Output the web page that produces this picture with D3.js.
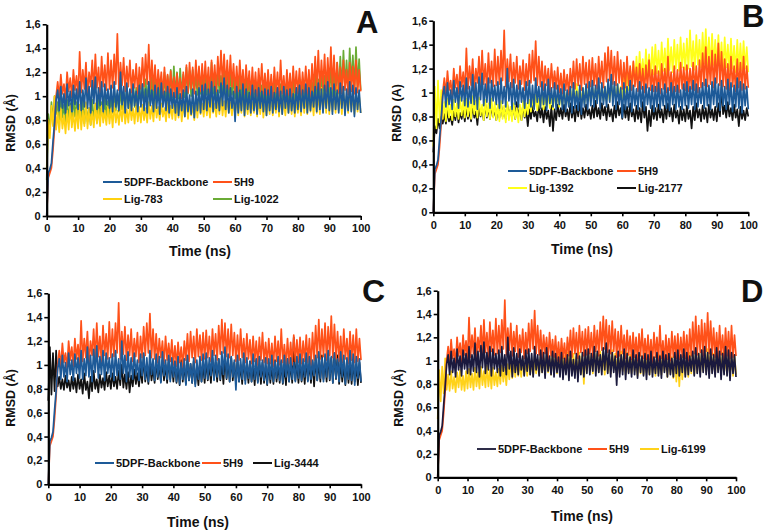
<!DOCTYPE html>
<html><head><meta charset="utf-8">
<script src="https://cdn.jsdelivr.net/npm/d3@7"></script>
<style>
body{margin:0;background:#fff}
svg{display:block}
text{font-family:"Liberation Sans",Arial,sans-serif;font-weight:bold;fill:#111}
</style>
</head><body>
<svg id="chart" width="765" height="531"></svg>
<script>
// ---------------- DATA ----------------
const timeStep = 0.5; // ns between samples (t = 0 .. 100)
const xTicks = [0,10,20,30,40,50,60,70,80,90,100];
const yTicks = [0,0.2,0.4,0.6,0.8,1.0,1.2,1.4,1.6];
const yTickLabels = ["0","0,2","0,4","0,6","0,8","1","1,2","1,4","1,6"];
const panelLetters = ["A","B","C","D"];
const yTitles = ["RMSD (Å)","RMSD (A)","RMSD (Å)","RMSD (Å)"];
const xTitle = "Time (ns)";

const backbone = [0.00,0.36,0.39,0.44,0.62,0.78,0.97,
1.05,0.88,1.08,0.90,1.02,0.86,1.10,0.92,1.04,0.87,1.09,0.93,1.06,0.89,
1.12,0.88,1.05,0.91,1.15,0.90,1.08,0.86,1.13,0.94,1.16,0.89,1.07,0.92,1.12,0.87,1.10,0.93,1.06,0.90,
1.09,0.87,1.12,0.91,1.05,0.88,1.20,0.93,1.08,0.86,1.11,0.90,1.06,0.88,1.10,0.92,1.04,0.87,1.09,0.91,
1.10,0.88,1.06,0.86,1.12,0.92,1.05,0.87,1.09,0.90,1.07,0.85,1.11,0.91,1.04,0.88,1.08,0.86,1.06,0.90,
1.03,0.86,1.07,0.84,1.02,0.88,1.05,0.83,1.08,0.87,1.01,0.85,1.06,0.82,1.04,0.88,1.07,0.86,1.09,0.89,
1.10,0.88,1.06,0.91,1.12,0.87,1.08,0.90,1.05,0.88,1.11,0.92,1.15,0.89,1.09,0.86,1.07,0.90,1.04,0.79,
1.08,0.86,1.05,0.88,1.10,0.84,1.06,0.89,1.03,0.86,1.09,0.88,1.05,0.85,1.07,0.90,1.04,0.87,1.06,0.84,
1.05,0.88,1.08,0.86,1.03,0.89,1.07,0.87,1.04,0.85,1.08,0.90,1.05,0.86,1.06,0.88,1.02,0.86,1.07,0.89,
1.09,0.87,1.05,0.90,1.10,0.86,1.07,0.88,1.04,0.91,1.08,0.87,1.11,0.89,1.06,0.86,1.09,0.90,1.12,0.88,
1.07,0.85,1.10,0.89,1.05,0.86,1.11,0.90,1.08,0.84,1.06,0.88,1.12,0.87,1.09,0.83,1.07,0.89,1.05,0.86];

const h5H9 = [0.00,0.32,0.36,0.40,0.55,0.74,1.00,
1.12,0.98,1.18,1.02,1.10,0.97,1.20,1.04,1.15,0.99,1.22,1.05,1.17,1.00,
1.37,1.03,1.22,1.06,1.28,1.01,1.20,1.08,1.30,1.04,1.35,1.07,1.24,1.02,1.33,1.08,1.26,1.05,1.36,1.06,
1.30,1.07,1.35,1.10,1.52,1.05,1.28,1.09,1.32,1.04,1.25,1.08,1.30,1.03,1.22,1.07,1.27,1.02,1.24,1.06,
1.32,1.08,1.35,1.10,1.43,1.06,1.30,1.05,1.26,1.02,1.22,1.06,1.20,1.01,1.24,1.04,1.18,1.03,1.21,1.00,
1.16,0.99,1.19,1.02,1.15,0.98,1.20,1.04,1.26,1.03,1.28,1.06,1.24,1.02,1.30,1.07,1.25,1.04,1.27,1.05,
1.29,1.06,1.24,1.03,1.30,1.08,1.26,1.04,1.33,1.09,1.38,1.10,1.35,1.07,1.30,1.06,1.34,1.08,1.27,1.03,
1.25,1.04,1.30,1.06,1.22,1.02,1.26,1.05,1.21,1.01,1.24,1.03,1.20,1.00,1.23,1.04,1.27,1.02,1.19,1.01,
1.22,1.01,1.18,0.99,1.24,1.03,1.20,1.00,1.30,1.02,1.17,0.99,1.22,1.01,1.19,1.00,1.25,1.03,1.21,1.02,
1.23,1.01,1.20,1.03,1.25,1.02,1.22,1.00,1.27,1.04,1.33,1.06,1.38,1.05,1.30,1.07,1.35,1.04,1.32,1.08,
1.41,1.06,1.34,1.05,1.28,1.03,1.24,1.02,1.30,1.05,1.22,1.01,1.28,1.04,1.25,1.02,1.30,1.03,1.22,1.04];

const lig783 = [0.40,0.80,0.65,0.92,0.75,1.00,0.72,
0.86,0.70,0.90,0.73,0.84,0.69,0.88,0.72,0.92,0.74,0.86,0.71,0.89,0.73,
0.93,0.72,0.88,0.75,0.95,0.73,0.90,0.76,0.87,0.74,0.94,0.77,0.89,0.75,0.92,0.78,0.88,0.76,0.91,0.77,
0.90,0.74,0.94,0.78,0.88,0.76,0.92,0.79,0.95,0.77,0.89,0.78,0.93,0.80,0.90,0.77,0.94,0.79,0.91,0.78,
0.93,0.80,0.90,0.78,0.95,0.81,0.92,0.79,0.96,0.82,0.91,0.80,0.94,0.83,0.90,0.79,0.95,0.82,0.92,0.81,
0.96,0.80,0.93,0.82,0.97,0.79,0.94,0.83,0.98,0.81,0.95,0.84,0.92,0.80,0.96,0.82,0.99,0.85,0.94,0.83,
0.97,0.84,0.95,0.82,0.99,0.86,0.94,0.83,0.98,0.85,1.00,0.84,0.96,0.83,0.99,0.86,0.95,0.84,0.97,0.85,
0.98,0.84,0.96,0.86,1.00,0.83,0.97,0.85,0.99,0.84,0.95,0.86,1.01,0.83,0.97,0.85,0.99,0.82,0.96,0.84,
0.98,0.85,1.00,0.84,0.96,0.86,0.99,0.83,1.02,0.85,0.97,0.84,1.00,0.86,0.98,0.85,1.01,0.83,0.97,0.86,
0.99,0.84,1.02,0.86,0.98,0.85,1.03,0.87,1.00,0.84,1.05,0.86,1.02,0.85,1.07,0.87,1.04,0.86,1.08,0.85,
1.06,0.87,1.03,0.86,1.08,0.88,1.02,0.85,1.05,0.87,1.00,0.86,1.04,0.88,1.01,0.85,1.03,0.87,1.00,0.86];

const lig1022 = [0.30,0.85,0.70,0.95,0.80,1.00,0.85,
0.95,0.80,0.98,0.82,0.93,0.79,0.97,0.81,0.94,0.80,0.99,0.83,0.95,0.80,
0.92,0.78,0.96,0.77,0.94,0.79,0.90,0.76,0.97,0.80,0.93,0.78,0.98,0.82,0.95,0.81,0.99,0.83,0.96,0.84,
1.00,0.86,1.04,0.88,1.02,0.87,1.06,0.89,1.03,0.88,1.08,0.90,1.05,0.89,1.10,0.91,1.07,0.90,1.12,0.92,
1.10,0.93,1.14,0.95,1.12,0.94,1.16,0.96,1.13,0.95,1.18,0.97,1.15,0.96,1.20,0.98,1.17,0.97,1.22,0.99,
1.25,1.00,1.20,0.98,1.23,1.01,1.18,0.99,1.24,1.02,1.21,1.00,1.22,1.03,1.18,1.01,1.20,1.02,1.17,1.00,
1.19,1.01,1.16,0.99,1.28,1.02,1.18,1.00,1.20,1.03,1.17,1.01,1.21,1.02,1.18,1.00,1.19,1.01,1.15,0.98,
1.14,0.96,1.18,0.98,1.12,0.95,1.16,0.97,1.11,0.94,1.15,0.96,1.10,0.93,1.14,0.95,1.09,0.92,1.13,0.94,
1.11,0.93,1.08,0.91,1.12,0.94,1.07,0.90,1.10,0.92,1.06,0.89,1.11,0.93,1.08,0.90,1.12,0.92,1.07,0.88,
1.10,0.91,1.14,0.93,1.09,0.90,1.16,0.94,1.12,0.92,1.18,0.95,1.14,0.93,1.20,0.97,1.17,0.95,1.22,0.98,
1.26,1.00,1.22,0.99,1.28,1.02,1.33,1.05,1.38,1.08,1.30,1.04,1.40,1.10,1.34,1.06,1.41,1.08,1.31,1.05];

const lig1392 = [0.55,1.05,0.70,1.10,0.75,1.02,0.78,
0.92,0.76,0.95,0.79,0.90,0.77,0.94,0.80,0.91,0.78,0.96,0.81,0.93,0.79,
0.95,0.80,0.92,0.78,0.97,0.82,0.93,0.79,0.96,0.81,0.90,0.77,0.94,0.80,0.91,0.78,0.95,0.79,0.92,0.77,
0.90,0.76,0.93,0.78,0.89,0.75,0.92,0.77,0.88,0.76,0.91,0.78,0.87,0.75,0.90,0.77,0.93,0.80,0.91,0.82,
0.94,0.84,0.96,0.86,0.98,0.85,0.95,0.87,0.99,0.86,0.97,0.88,1.00,0.87,0.98,0.86,1.01,0.89,0.99,0.88,
1.01,0.90,1.03,0.91,1.00,0.90,1.04,0.92,1.02,0.91,1.07,0.93,1.03,0.92,1.04,0.91,1.06,0.93,1.03,0.92,
1.05,0.93,1.03,0.92,1.06,0.94,1.04,0.93,1.05,0.94,1.03,0.93,1.08,0.95,1.05,0.94,1.07,0.96,1.05,0.95,
1.13,1.00,1.16,1.02,1.20,1.04,1.25,1.08,1.30,1.10,1.34,1.12,1.28,1.11,1.36,1.14,1.32,1.12,1.38,1.15,
1.40,1.16,1.35,1.14,1.42,1.18,1.37,1.15,1.45,1.19,1.38,1.17,1.44,1.20,1.40,1.18,1.46,1.21,1.41,1.19,
1.45,1.20,1.52,1.22,1.43,1.19,1.48,1.23,1.44,1.21,1.50,1.24,1.53,1.22,1.46,1.20,1.49,1.23,1.44,1.21,
1.48,1.22,1.42,1.19,1.46,1.21,1.40,1.18,1.45,1.20,1.39,1.17,1.44,1.19,1.41,1.18,1.43,1.20,1.38,1.17];

const lig2177 = [0.50,0.72,0.66,0.78,0.70,0.80,0.74,
0.82,0.74,0.85,0.76,0.80,0.73,0.84,0.77,0.86,0.75,0.83,0.78,0.87,0.76,
0.88,0.78,0.85,0.76,0.90,0.79,0.84,0.73,0.88,0.80,0.86,0.77,0.91,0.79,0.87,0.78,0.89,0.80,0.86,0.77,
0.88,0.79,0.91,0.80,0.87,0.78,0.90,0.81,0.86,0.79,0.89,0.78,0.92,0.80,0.87,0.77,0.90,0.79,0.85,0.72,
0.86,0.78,0.89,0.80,0.84,0.76,0.90,0.79,0.87,0.75,0.88,0.78,0.85,0.72,0.89,0.68,0.86,0.77,0.90,0.80,
0.87,0.78,0.90,0.80,0.86,0.77,0.91,0.79,0.88,0.76,0.89,0.80,0.92,0.78,0.87,0.79,0.90,0.81,0.86,0.78,
0.89,0.79,0.93,0.80,0.87,0.78,0.91,0.81,0.88,0.77,0.90,0.80,0.86,0.76,0.89,0.79,0.92,0.81,0.87,0.78,
0.90,0.79,0.88,0.77,0.91,0.80,0.86,0.76,0.89,0.78,0.87,0.75,0.92,0.79,0.88,0.68,0.85,0.72,0.89,0.78,
0.87,0.77,0.90,0.79,0.86,0.75,0.89,0.78,0.91,0.80,0.87,0.76,0.90,0.79,0.85,0.74,0.88,0.77,0.86,0.76,
0.89,0.78,0.85,0.70,0.88,0.77,0.91,0.79,0.86,0.76,0.89,0.78,0.87,0.75,0.90,0.79,0.86,0.77,0.88,0.76,
0.91,0.80,1.05,0.82,0.89,0.79,0.92,0.80,0.87,0.77,0.90,0.79,0.86,0.72,0.88,0.78,0.85,0.77,0.87,0.80];

const lig3444 = [0.70,1.15,0.75,1.10,0.78,1.12,0.82,
0.90,0.80,0.88,0.79,0.91,0.81,0.87,0.78,0.90,0.80,0.89,0.77,0.92,0.80,
0.88,0.76,0.93,0.79,0.86,0.72,0.90,0.78,0.95,0.80,0.88,0.77,0.92,0.81,0.89,0.79,0.94,0.82,0.91,0.80,
0.93,0.82,0.90,0.80,0.95,0.83,1.00,0.81,0.92,0.80,0.94,0.77,0.91,0.82,0.96,0.84,0.93,0.82,0.97,0.85,
1.08,0.86,0.98,0.84,1.02,0.87,0.97,0.85,1.03,0.88,0.99,0.86,1.04,0.87,1.00,0.85,1.05,0.88,1.01,0.86,
1.03,0.85,0.99,0.83,1.04,0.86,1.00,0.84,1.05,0.87,1.01,0.85,1.03,0.84,0.98,0.83,1.02,0.86,1.00,0.85,
1.04,0.87,1.00,0.85,1.06,0.88,1.02,0.86,1.05,0.87,1.01,0.84,1.07,0.88,1.03,0.86,1.06,0.87,1.02,0.85,
1.04,0.86,1.00,0.84,1.05,0.87,1.01,0.85,1.03,0.86,0.99,0.83,1.04,0.86,1.00,0.84,1.02,0.85,0.98,0.83,
1.02,0.85,0.99,0.84,1.04,0.86,1.00,0.85,1.03,0.84,0.99,0.83,1.05,0.86,1.01,0.85,1.23,0.87,1.02,0.85,
1.04,0.86,1.00,0.84,1.05,0.87,1.01,0.85,1.03,0.82,1.06,0.87,1.02,0.86,1.08,0.88,1.04,0.86,1.10,0.87,
1.06,0.85,1.10,0.88,1.08,0.84,1.03,0.86,1.00,0.83,1.04,0.85,1.01,0.84,1.03,0.86,0.99,0.83,1.02,0.85];

const lig6199 = [0.50,0.92,0.65,0.95,0.72,1.02,0.75,
0.88,0.74,0.91,0.76,0.86,0.73,0.90,0.77,0.92,0.75,0.87,0.74,0.91,0.76,
0.93,0.77,0.89,0.75,0.94,0.78,0.90,0.76,0.95,0.79,0.91,0.77,0.96,0.78,0.92,0.76,0.94,0.79,0.90,0.78,
0.93,0.80,0.96,0.82,0.94,0.79,0.97,0.84,1.00,0.85,0.98,0.86,1.01,0.87,0.99,0.86,1.02,0.88,1.00,0.87,
1.03,0.88,1.00,0.87,1.04,0.89,1.01,0.88,1.05,0.90,1.02,0.89,1.06,0.90,1.03,0.88,1.07,0.91,1.04,0.89,
1.05,0.90,1.08,0.91,1.04,0.89,1.07,0.92,1.05,0.90,1.06,0.88,1.03,0.87,1.07,0.89,1.04,0.80,1.06,0.90,
1.08,0.91,1.05,0.89,1.09,0.92,1.06,0.90,1.08,0.91,1.04,0.88,1.07,0.90,1.05,0.89,1.09,0.92,1.06,0.90,
1.05,0.89,1.08,0.91,1.04,0.88,1.07,0.90,1.05,0.89,1.08,0.91,1.03,0.87,1.06,0.89,1.04,0.88,1.07,0.90,
1.04,0.88,1.07,0.90,1.03,0.87,1.06,0.89,1.05,0.88,1.08,0.91,1.04,0.86,1.06,0.89,1.03,0.85,1.05,0.82,
1.02,0.78,1.04,0.84,1.06,0.88,1.03,0.86,1.07,0.89,1.05,0.88,1.08,0.90,1.06,0.89,1.09,0.91,1.07,0.90,
1.10,0.92,1.08,0.90,1.06,0.88,1.09,0.91,1.05,0.89,1.07,0.90,1.04,0.88,1.06,0.89,1.03,0.87,1.05,0.88];

// series names per panel (legend order) and the arrays they use
const namesA = ["5DPF-Backbone","5H9","Lig-783","Lig-1022"];
const namesB = ["5DPF-Backbone","5H9","Lig-1392","Lig-2177"];
const namesC = ["5DPF-Backbone","5H9","Lig-3444"];
const namesD = ["5DPF-Backbone","5H9","Lig-6199"];
const valuesA = [backbone,h5H9,lig783,lig1022];
const valuesB = [backbone,h5H9,lig1392,lig2177];
const valuesC = [backbone,h5H9,lig3444];
const valuesD = [backbone,h5H9,lig6199];

// ---------------- STYLE / LAYOUT ----------------
const colorsA = ["#1d5a98","#ff5119","#ffd10f","#6aab35"];
const colorsB = ["#1d5a98","#ff5119","#ffff1a","#111111"];
const colorsC = ["#1d5a98","#ff5119","#111111"];
const colorsD = ["#1b1a3e","#ff5119","#ffd21a"];
const legendColorsD = ["#2e2d48","#ff5119","#ffd21a"];

const layouts = [
  {x0:46.7,x1:360.7,yb:216,yt:24.3, letter:{x:356,y:33,size:31}, ylab:{x:15,y:123}, xlab:{x:200,y:256},
   legend:[[103,182],[213,182],[103,199],[213,199]]},
  {x0:433.3,x1:748.3,yb:212.3,yt:20.7, letter:{x:742,y:27,size:31}, ylab:{x:401,y:113}, xlab:{x:582,y:254},
   legend:[[508,171],[617,171],[508,188],[617,188]]},
  {x0:48.3,x1:361,yb:484.3,yt:293.3, letter:{x:362,y:302,size:32}, ylab:{x:15,y:398}, xlab:{x:198,y:527},
   legend:[[95,463],[202,463],[253,463]]},
  {x0:437.7,x1:736,yb:477.3,yt:290.7, letter:{x:741,y:302,size:31}, ylab:{x:403,y:398}, xlab:{x:582,y:521},
   legend:[[477,449],[588,449],[640,449]]}
];

const allNames = [namesA,namesB,namesC,namesD];
const allValues = [valuesA,valuesB,valuesC,valuesD];
const allColors = [colorsA,colorsB,colorsC,colorsD];
const allLegendColors = [colorsA,colorsB,colorsC,legendColorsD];

const svg = d3.select("#chart");

layouts.forEach((L, p) => {
  const g = svg.append("g");
  const x = d3.scaleLinear().domain([0,100]).range([L.x0, L.x1]);
  const y = d3.scaleLinear().domain([0,1.6]).range([L.yb, L.yt]);
  const names = allNames[p], vals = allValues[p], cols = allColors[p];

  const line = d3.line().x((d,i) => x(i*timeStep)).y(d => y(d));
  // draw in reverse legend order so the backbone ends on top
  for (let s = names.length-1; s >= 0; s--) {
    g.append("path").datum(vals[s])
      .attr("d", line).attr("fill","none")
      .attr("stroke", cols[s]).attr("stroke-width",1.7)
      .attr("stroke-linejoin","round");
  }

  // axes
  const ax = g.append("g").attr("transform",`translate(0,${L.yb})`)
    .call(d3.axisBottom(x).tickValues(xTicks).tickSize(4).tickSizeOuter(0).tickFormat(d3.format("d")));
  const ay = g.append("g").attr("transform",`translate(${L.x0},0)`)
    .call(d3.axisLeft(y).tickValues(yTicks).tickSize(4).tickSizeOuter(0).tickFormat((d,i)=>yTickLabels[i]));
  [ax,ay].forEach(a => {
    a.select(".domain").attr("stroke","#000").attr("stroke-width",2.2);
    a.selectAll(".tick line").attr("stroke","#000").attr("stroke-width",1.6);
    a.selectAll(".tick text").attr("font-size",11).attr("font-family","Liberation Sans, Arial, sans-serif")
      .attr("font-weight","bold").attr("fill","#111");
  });
  ax.selectAll(".tick text").attr("dy","0.95em").attr("y",6);
  ay.selectAll(".tick text").attr("x",-6);

  // titles
  g.append("text").attr("x",L.xlab.x).attr("y",L.xlab.y).attr("text-anchor","middle")
    .attr("font-size",14).text(xTitle);
  g.append("text").attr("transform",`translate(${L.ylab.x},${L.ylab.y}) rotate(-90)`)
    .attr("text-anchor","middle").attr("font-size",12.5).text(yTitles[p]);
  g.append("text").attr("x",L.letter.x).attr("y",L.letter.y)
    .attr("font-size",L.letter.size).attr("fill","#000").text(panelLetters[p]);

  // legend
  const lcols = allLegendColors[p];
  names.forEach((n,i) => {
    const [lx,ly] = L.legend[i];
    g.append("line").attr("x1",lx).attr("x2",lx+19).attr("y1",ly).attr("y2",ly)
      .attr("stroke",lcols[i]).attr("stroke-width",2);
    g.append("text").attr("x",lx+21).attr("y",ly+4).attr("font-size",11).text(n);
  });
});
</script>
</body></html>
